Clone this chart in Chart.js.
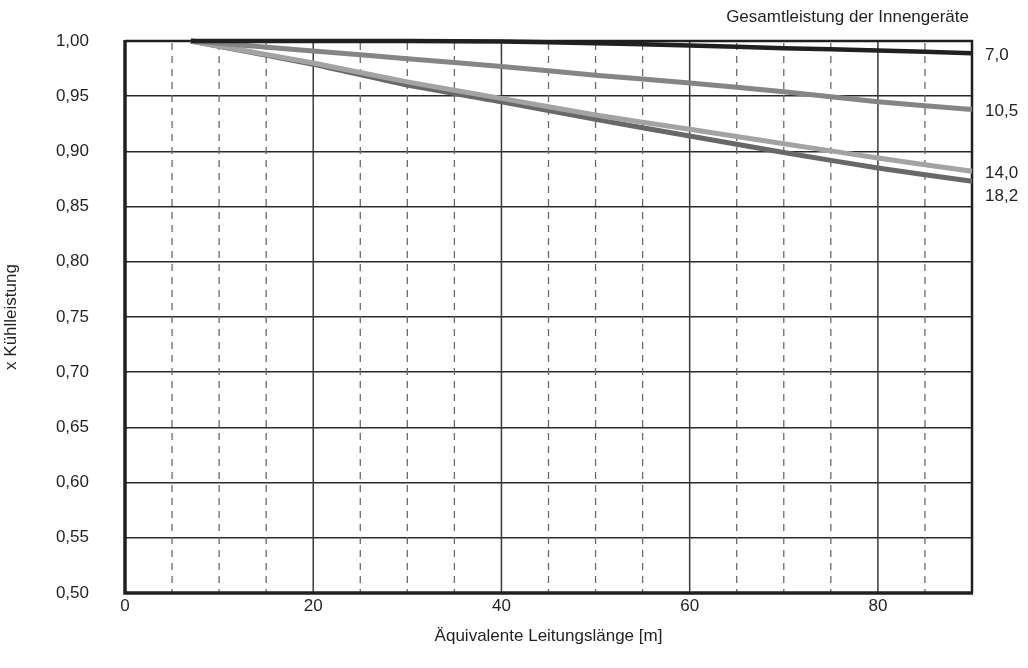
<!DOCTYPE html>
<html>
<head>
<meta charset="utf-8">
<script src="https://cdn.jsdelivr.net/npm/chart.js@4/dist/chart.umd.min.js"></script>
<style>
html,body{margin:0;padding:0;background:#fff;}
#wrap{width:1028px;height:668px;}
</style>
</head>
<body>
<div id="wrap"><canvas id="c" width="1028" height="668"></canvas></div>
<script>
const FONT = "'Liberation Sans', Arial, sans-serif";
const FS = 17;

// Data
const lengths = [7, 20, 30, 40, 50, 60, 70, 80, 90];
const seriesLabels = ['7,0', '10,5', '14,0', '18,2'];
const cap70  = [1.000, 1.000, 1.000, 0.9995, 0.998, 0.996, 0.9935, 0.9915, 0.989];
const cap105 = [1.000, 0.991, 0.984, 0.977, 0.969, 0.962, 0.954, 0.945, 0.938];
const cap140 = [1.000, 0.980, 0.963, 0.948, 0.933, 0.920, 0.907, 0.894, 0.882];
const cap182 = [1.000, 0.979, 0.960, 0.945, 0.929, 0.914, 0.899, 0.885, 0.873];
const legendTitle = 'Gesamtleistung der Innengeräte';
const xTitle = 'Äquivalente Leitungslänge [m]';
const yTitle = 'x Kühlleistung';

const colors = ['#231f20', '#848587', '#a3a3a5', '#67686a'];
const widths = [4.5, 5, 5, 5];
const seriesValues = [cap70, cap105, cap140, cap182];

const datasets = seriesValues.map((vals, i) => ({
  label: seriesLabels[i],
  data: lengths.map((x, j) => ({x: x, y: vals[j]})),
  borderColor: colors[i],
  backgroundColor: colors[i],
  borderWidth: widths[i],
  pointRadius: 0,
  tension: 0.2,
  clip: false
}));

const framePlugin = {
  id: 'frame',
  beforeDatasetsDraw(chart) {
    const {ctx, chartArea: a, scales: {x}} = chart;
    ctx.save();
    // vertical grid
    x.ticks.forEach(t => {
      const px = x.getPixelForValue(t.value);
      if (t.value <= x.min || t.value >= x.max) return;
      ctx.beginPath();
      if (t.value % 20 === 0) {
        ctx.setLineDash([]);
        ctx.strokeStyle = '#3a3a3a';
        ctx.lineWidth = 1.5;
      } else {
        ctx.setLineDash([7, 6]);
        ctx.lineDashOffset = -2;
        ctx.strokeStyle = '#6a6a6a';
        ctx.lineWidth = 1.3;
      }
      ctx.moveTo(px, a.top);
      ctx.lineTo(px, a.bottom);
      ctx.stroke();
    });
    ctx.setLineDash([]);
    // frame
    ctx.strokeStyle = '#231f20';
    ctx.lineWidth = 2.5;
    ctx.beginPath();
    ctx.moveTo(a.left, a.top);
    ctx.lineTo(a.right, a.top);
    ctx.lineTo(a.right, a.bottom);
    ctx.stroke();
    ctx.lineWidth = 3.5;
    ctx.beginPath();
    ctx.moveTo(a.left, a.top - 1);
    ctx.lineTo(a.left, a.bottom);
    ctx.lineTo(a.right + 1, a.bottom);
    ctx.stroke();
    ctx.restore();
  },
  afterDatasetsDraw(chart) {
    const {ctx, chartArea: a, scales: {y}} = chart;
    ctx.save();
    ctx.fillStyle = '#231f20';
    ctx.font = FS + 'px ' + FONT;
    ctx.textBaseline = 'middle';
    // legend title
    ctx.textAlign = 'right';
    ctx.fillText(legendTitle, a.right - 3, 17);
    // end labels
    ctx.textAlign = 'left';
    const items = seriesValues.map((v, i) => ({label: seriesLabels[i], py: y.getPixelForValue(v[v.length - 1])}));
    items.sort((p, q) => p.py - q.py);
    let prev = -1e9;
    items.forEach(it => {
      let py = Math.max(it.py + 2, prev + 23);
      ctx.fillText(it.label, a.right + 13, py);
      prev = py;
    });
    ctx.restore();
  }
};

new Chart(document.getElementById('c'), {
  type: 'line',
  data: {datasets},
  plugins: [framePlugin],
  options: {
    responsive: false,
    animation: false,
    devicePixelRatio: 1,
    layout: {padding: {top: 41, right: 56, left: 0, bottom: 0}},
    plugins: {legend: {display: false}, tooltip: {enabled: false}, title: {display: false}},
    scales: {
      x: {
        type: 'linear',
        min: 0, max: 90,
        afterFit(s) { s.height = 75; },
        ticks: {
          stepSize: 5,
          autoSkip: false,
          maxRotation: 0,
          padding: 3,
          color: '#231f20',
          font: {family: FONT, size: FS},
          callback: v => (v % 20 === 0 ? String(v) : '')
        },
        grid: {display: false, drawTicks: false},
        border: {display: false},
        title: {display: true, text: xTitle, color: '#231f20', font: {family: FONT, size: FS}, padding: {top: 0, bottom: 21}}
      },
      y: {
        type: 'linear',
        min: 0.5, max: 1.0,
        afterFit(s) { s.width = 125; s.paddingTop = 0; s.paddingBottom = 0; },
        ticks: {
          stepSize: 0.05,
          padding: 36,
          color: '#231f20',
          font: {family: FONT, size: FS},
          callback: v => v.toFixed(2).replace('.', ',')
        },
        grid: {display: true, drawTicks: false, color: '#2a2a2a', lineWidth: 1.5},
        border: {display: false},
        title: {display: true, text: yTitle, color: '#231f20', font: {family: FONT, size: FS}, padding: {top: 1, bottom: 0}}
      }
    }
  }
});
</script>
</body>
</html>
